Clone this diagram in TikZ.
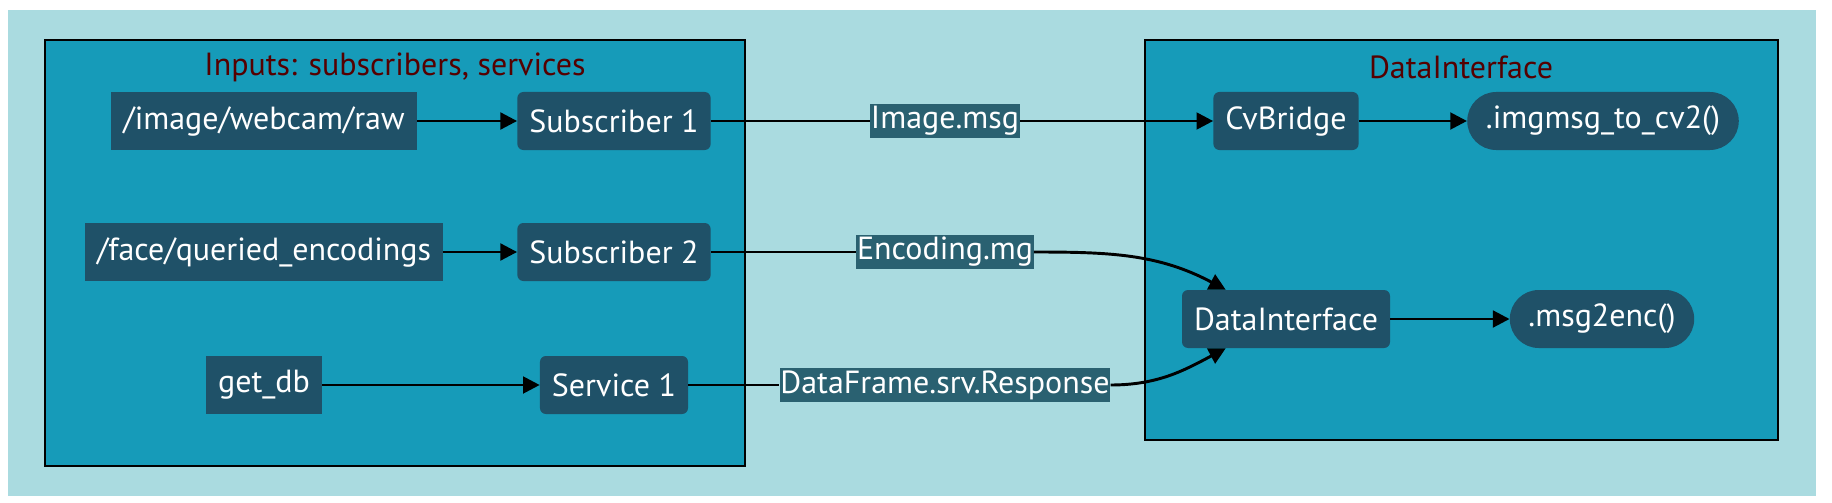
\documentclass[tikz,border=0pt]{standalone}
\usepackage{fontspec}
\setmainfont{PT Sans}
\usetikzlibrary{arrows.meta}
\definecolor{bgblue}{HTML}{AADBE0}
\definecolor{panelblue}{HTML}{169BB9}
\definecolor{nodeblue}{HTML}{1F5168}
\definecolor{lblblue}{HTML}{2A6171}
\definecolor{titlered}{HTML}{550000}
\begin{document}
\begin{tikzpicture}[x=0.75pt,y=-0.75pt,
    txt/.style={font=\fontsize{24}{28}\selectfont},
    box/.style={txt,fill=nodeblue,text=white,minimum height=43.5pt,inner xsep=9pt},
    rbox/.style={box,rounded corners=4.5pt},
    pill/.style={box,rounded corners=21.7pt,inner xsep=14pt},
    lbl/.style={txt,fill=lblblue,text=white,inner xsep=0.5pt,inner ysep=1.5pt},
    title/.style={txt,text=titlered},
    panel/.style={draw=black,fill=panelblue,line width=0.8pt},
    line/.style={draw=black,line width=2.2pt},
    flow/.style={line,-{Triangle[length=12.5pt,width=12.5pt]}}]
        %% background
        \useasboundingbox (0,0) rectangle (1832,503);
        \fill[bgblue] (8,10) rectangle (1816,496);
        %% panels
        \draw[panel] (45,40) rectangle (745,466);
        \draw[panel] (1145,40) rectangle (1778,440);
        \node[title] (intitle) at (395,67) {Inputs: subscribers, services};
        \node[title] (dititle) at (1461,67) {DataInterface};
        %% inputs
        \node[box] (raw) at (264,121) {/image/webcam/raw};
        \node[box] (enc) at (264,252) {/face/queried\_encodings};
        \node[box] (getdb) at (264,385) {get\_db};
        \node[rbox] (sub1) at (614,121) {Subscriber 1};
        \node[rbox] (sub2) at (614,252) {Subscriber 2};
        \node[rbox] (srv1) at (614,385) {Service 1};
        %% data interface
        \node[rbox] (cvb) at (1286,121) {CvBridge};
        \node[pill] (imgmsg) at (1603,121) {.imgmsg\_to\_cv2()};
        \node[rbox] (di) at (1286,319) {DataInterface};
        \node[pill] (msg2enc) at (1602,319) {.msg2enc()};
        \coordinate (diin1) at ([xshift=33pt]di.north west);
        \coordinate (diin2) at ([xshift=33pt]di.south west);
        %% edge labels
        \node[lbl] (lblimg) at (945,121) {Image.msg};
        \node[lbl] (lblenc) at (945,252) {Encoding.mg};
        \node[lbl] (lblsrv) at (945,385) {DataFrame.srv.Response};
        %% edges
        \draw[flow] (raw) -- (sub1);
        \draw[flow] (enc) -- (sub2);
        \draw[flow] (getdb) -- (srv1);
        \draw[line] (sub1) -- (lblimg);
        \draw[flow] (lblimg) -- (cvb);
        \draw[line] (sub2) -- (lblenc);
        \draw[flow] (lblenc) to[out=0,in=152] (diin1);
        \draw[line] (srv1) -- (lblsrv);
        \draw[flow] (lblsrv) to[out=0,in=208] (diin2);
        \draw[flow] (cvb) -- (imgmsg);
        \draw[flow] (di) -- (msg2enc);
\end{tikzpicture}
\end{document}
